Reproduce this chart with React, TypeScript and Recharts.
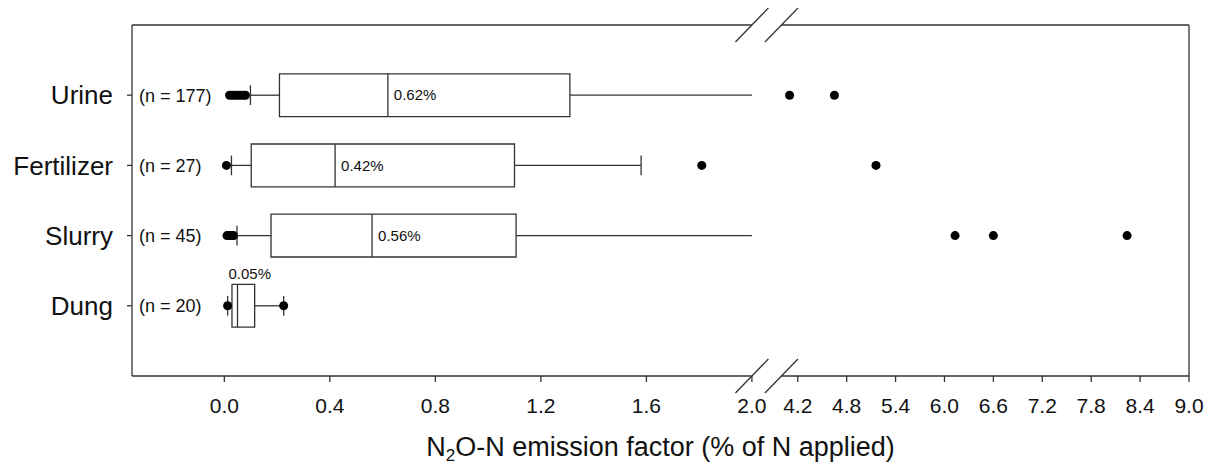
import * as React from 'react';
import {
  ComposedChart,
  Label,
  ReferenceArea,
  ReferenceLine,
  Scatter,
  XAxis,
  YAxis,
} from 'recharts';

// N2O-N emission factors by N source (% of N applied)
const CATEGORIES = ['Urine', 'Fertilizer', 'Slurry', 'Dung'];
const N_COUNTS = [177, 27, 45, 20];
const WHISKER_LOW = [0.099, 0.027, 0.048, 0.0125];
const Q1 = [0.209, 0.102, 0.177, 0.029];
const MEDIAN = [0.62, 0.42, 0.56, 0.05];
const Q3 = [1.31, 1.1, 1.106, 0.115];
// urine and slurry whiskers run on past the axis break
const WHISKER_HIGH = [2.0, 1.58, 2.0, 0.225];
const MEDIAN_LABELS = ['0.62%', '0.42%', '0.56%', '0.05%'];
const OUTLIERS = [
  [0.02, 0.03, 0.04, 0.05, 0.06, 0.07, 0.08, 4.1, 4.65],
  [0.008, 1.81, 5.16],
  [0.01, 0.02, 0.03, 0.035, 6.13, 6.6, 8.24],
  [0.0125, 0.225],
];

const LEFT_TICKS = [0, 0.4, 0.8, 1.2, 1.6, 2.0];
const RIGHT_TICKS = [4.2, 4.8, 5.4, 6.0, 6.6, 7.2, 7.8, 8.4, 9.0];

// broken axis: 2.0 -> 4.0 is cut out, right part is compressed
const BREAK_LO = 2.0;
const BREAK_HI = 4.0;
const GAP = 0.112;
const K = 0.309;
const X_MIN = -0.35;
const X_MAX_RAW = 9.0;

const tx = (v: number) => (v <= BREAK_LO ? v : BREAK_LO + GAP + (v - BREAK_HI) * K);
const untx = (v: number) => (v <= BREAK_LO + 0.0001 ? v : BREAK_HI + (v - BREAK_LO - GAP) / K);

const FONT = '"Liberation Sans", Arial, Helvetica, sans-serif';
const INK = '#333';
const SW = 1.3;
const BOX_HALF = 0.305;
const CAP_HALF = 0.14;
const Y_MAX = 5;

const rows = CATEGORIES.map((name, i) => ({
  name,
  y: CATEGORIES.length - i,
  n: N_COUNTS[i],
  lo: WHISKER_LOW[i],
  q1: Q1[i],
  med: MEDIAN[i],
  q3: Q3[i],
  hi: WHISKER_HIGH[i],
  label: MEDIAN_LABELS[i],
  outliers: OUTLIERS[i],
}));

const outlierData = rows.flatMap((r) => r.outliers.map((v) => ({ x: tx(v), y: r.y })));
const medianData = rows.map((r) => ({
  x: tx(r.med),
  y: r.y,
  label: r.label,
  narrow: r.q3 - r.q1 < 0.2,
}));

const CategoryTick = (props: any) => {
  const { x, y, payload } = props;
  const idx = CATEGORIES.length - payload.value;
  const axisX = x + 5;
  return (
    <g>
      <text x={axisX - 19} y={y} dy="0.35em" textAnchor="end" fontSize={26} fontFamily={FONT} fill="#111">
        {CATEGORIES[idx]}
      </text>
      <text x={axisX + 7} y={y} dy="0.35em" textAnchor="start" fontSize={18} fontFamily={FONT} fill="#111">
        (n = {N_COUNTS[idx]})
      </text>
    </g>
  );
};

const MedianText = (props: any) => {
  const { cx, cy, payload } = props;
  if (payload.narrow) {
    return (
      <text x={cx - 9} y={cy - 27} fontSize={15} fontFamily={FONT} fill="#111">
        {payload.label}
      </text>
    );
  }
  return (
    <text x={cx + 6} y={cy} dy="0.35em" fontSize={15} fontFamily={FONT} fill="#111">
      {payload.label}
    </text>
  );
};

const XTitle = (props: any) => {
  const { viewBox } = props;
  const cx = viewBox.x + viewBox.width / 2;
  const y = viewBox.y + 80;
  return (
    <text x={cx} y={y} textAnchor="middle" fontSize={27} fontFamily={FONT} fill="#111">
      <tspan>N</tspan>
      <tspan fontSize={17} dy={5}>2</tspan>
      <tspan dy={-5}>O-N emission factor (% of N applied)</tspan>
    </text>
  );
};

const seg = (x1: number, y1: number, x2: number, y2: number, key: string) => (
  <ReferenceLine
    key={key}
    segment={[
      { x: x1, y: y1 },
      { x: x2, y: y2 },
    ]}
    stroke={INK}
    strokeWidth={SW}
    ifOverflow="visible"
  />
);

export default function App() {
  const xTicks = [...LEFT_TICKS, ...RIGHT_TICKS].map(tx);
  const xMax = tx(X_MAX_RAW);
  const slashDx = 0.0625;
  const slashDy = 0.242;

  const frame = [
    seg(X_MIN, 0, BREAK_LO, 0, 'b1'),
    seg(tx(BREAK_HI), 0, xMax, 0, 'b2'),
    seg(X_MIN, Y_MAX, BREAK_LO, Y_MAX, 't1'),
    seg(tx(BREAK_HI), Y_MAX, xMax, Y_MAX, 't2'),
    seg(xMax, 0, xMax, Y_MAX, 'r'),
  ];
  const slashes = [0, Y_MAX].flatMap((yy) =>
    [BREAK_LO, tx(BREAK_HI)].map((xx, j) =>
      seg(xx - slashDx, yy - slashDy, xx + slashDx, yy + slashDy, `s${yy}-${j}`)
    )
  );

  const whiskers = rows.flatMap((r) => {
    const out = [
      seg(tx(r.lo), r.y, tx(r.q1), r.y, `wl${r.name}`),
      seg(tx(r.q3), r.y, tx(r.hi), r.y, `wh${r.name}`),
      seg(tx(r.lo), r.y - CAP_HALF, tx(r.lo), r.y + CAP_HALF, `cl${r.name}`),
    ];
    if (r.hi < BREAK_LO) {
      out.push(seg(tx(r.hi), r.y - CAP_HALF, tx(r.hi), r.y + CAP_HALF, `ch${r.name}`));
    }
    return out;
  });

  return (
    <div style={{ width: 1200, height: 457 }}>
      <ComposedChart width={1200} height={457} margin={{ top: 17, right: 19, left: 0, bottom: 0 }}>
        <XAxis
          type="number"
          dataKey="x"
          domain={[X_MIN, xMax]}
          ticks={xTicks}
          interval={0}
          tickFormatter={(v: number) => untx(v).toFixed(1)}
          axisLine={false}
          tickLine={{ stroke: INK, strokeWidth: SW }}
          tickSize={6}
          tickMargin={16}
          height={89}
          tick={{ fontSize: 21, fill: '#111', fontFamily: FONT }}
        >
          <Label content={XTitle} />
        </XAxis>
        <YAxis
          type="number"
          dataKey="y"
          domain={[0, Y_MAX]}
          ticks={[1, 2, 3, 4]}
          interval={0}
          width={124}
          axisLine={{ stroke: INK, strokeWidth: SW }}
          tickLine={{ stroke: INK, strokeWidth: SW }}
          tickSize={5}
          tickMargin={0}
          tick={<CategoryTick />}
        />
        {frame}
        {slashes}
        {whiskers}
        {rows.map((r) => (
          <ReferenceArea
            key={`box${r.name}`}
            x1={tx(r.q1)}
            x2={tx(r.q3)}
            y1={r.y - BOX_HALF}
            y2={r.y + BOX_HALF}
            fill="#fff"
            fillOpacity={1}
            stroke={INK}
            strokeWidth={SW}
            ifOverflow="visible"
          />
        ))}
        {rows.map((r) => seg(tx(r.med), r.y - BOX_HALF, tx(r.med), r.y + BOX_HALF, `m${r.name}`))}
        <Scatter data={outlierData} fill="#000" isAnimationActive={false} />
        <Scatter data={medianData} shape={MedianText} isAnimationActive={false} />
      </ComposedChart>
    </div>
  );
}
